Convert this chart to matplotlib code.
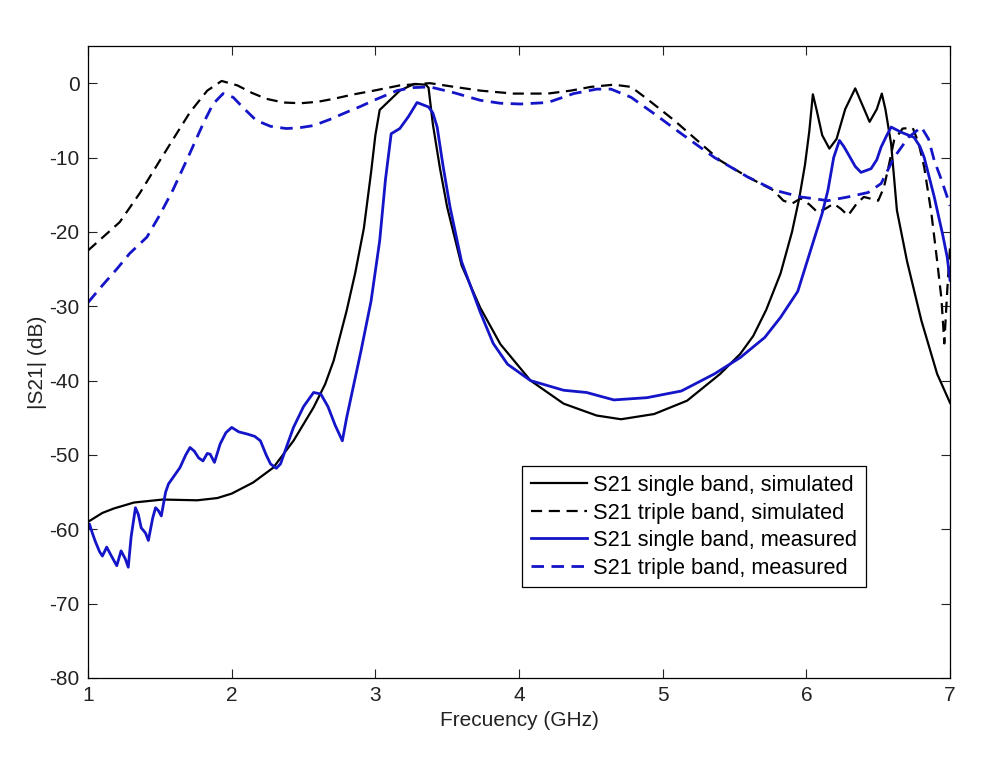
import matplotlib
matplotlib.use("Agg")
import matplotlib.pyplot as plt

# S21 single band, simulated
x_ss = [1.00, 1.10, 1.18, 1.32, 1.52, 1.76, 1.90, 2.00, 2.15, 2.29, 2.43, 2.57, 2.65, 2.71, 2.80,
        2.86, 2.92, 2.97, 3.00, 3.03, 3.10, 3.17, 3.27, 3.35, 3.37, 3.40, 3.45, 3.50, 3.60, 3.73,
        3.87, 4.08, 4.31, 4.54, 4.71, 4.94, 5.17, 5.40, 5.54, 5.63, 5.72, 5.82, 5.90, 5.95, 5.99,
        6.02, 6.045, 6.07, 6.11, 6.16, 6.21, 6.27, 6.34, 6.38, 6.44, 6.49, 6.525, 6.55, 6.59, 6.63,
        6.70, 6.80, 6.91, 7.00]
y_ss = [-59.0, -57.8, -57.2, -56.4, -56.0, -56.1, -55.8, -55.2, -53.7, -51.7, -48.1, -43.6, -40.5, -37.3, -30.6,
        -25.5, -19.5, -12.0, -7.0, -3.6, -2.3, -1.0, -0.1, -0.2, -0.6, -5.5, -11.5, -16.7, -24.5, -30.2,
        -35.1, -40.0, -43.1, -44.7, -45.2, -44.5, -42.7, -39.1, -36.4, -34.0, -30.5, -25.6, -20.0, -15.5, -11.0,
        -6.5, -1.5, -3.5, -7.0, -8.8, -7.5, -3.5, -0.7, -2.5, -5.2, -3.5, -1.4, -3.5, -8.2, -17.1,
        -23.9, -31.9, -39.1, -43.0]

# S21 triple band, simulated
x_ts = [1.00, 1.22, 1.36, 1.50, 1.60, 1.71, 1.83, 1.93, 2.04, 2.14, 2.24, 2.36, 2.48, 2.60, 2.71,
        2.85, 2.99, 3.17, 3.38, 3.55, 3.73, 3.96, 4.20, 4.36, 4.50, 4.66, 4.78, 4.89, 5.08, 5.24,
        5.40, 5.59, 5.77, 5.84, 5.90, 5.96, 6.02, 6.08, 6.14, 6.19, 6.24, 6.29, 6.35, 6.40, 6.50,
        6.54, 6.58, 6.61, 6.67, 6.74, 6.78, 6.82, 6.87, 6.91, 6.94, 6.96, 6.98, 7.00]
y_ts = [-22.5, -18.7, -14.8, -10.4, -7.3, -3.9, -1.0, 0.3, -0.3, -1.3, -2.1, -2.6, -2.7, -2.5, -2.1,
        -1.5, -1.0, -0.3, 0.0, -0.5, -1.0, -1.4, -1.4, -1.0, -0.5, -0.2, -0.5, -2.1, -5.0, -7.7,
        -10.4, -12.6, -14.4, -15.8, -16.2, -15.5, -16.3, -17.4, -16.8, -16.2, -16.9, -17.8, -16.2, -15.3, -15.8,
        -14.0, -10.5, -7.7, -6.1, -6.0, -8.0, -11.3, -17.5, -23.9, -29.0, -35.0, -28.0, -22.0]

# S21 single band, measured
x_sm = [1.00, 1.01, 1.03, 1.05, 1.08, 1.10, 1.13, 1.16, 1.20, 1.23, 1.26, 1.28, 1.30, 1.33, 1.35,
        1.37, 1.40, 1.42, 1.45, 1.47, 1.49, 1.51, 1.54, 1.56, 1.60, 1.64, 1.68, 1.71, 1.74, 1.77,
        1.80, 1.83, 1.85, 1.88, 1.92, 1.96, 2.00, 2.05, 2.11, 2.16, 2.20, 2.24, 2.27, 2.31, 2.34,
        2.38, 2.43, 2.50, 2.57, 2.62, 2.67, 2.72, 2.77, 2.80, 2.85, 2.90, 2.97, 3.03, 3.07, 3.11,
        3.17, 3.23, 3.29, 3.33, 3.37, 3.40, 3.43, 3.47, 3.52, 3.60, 3.73, 3.82, 3.92, 4.08, 4.31,
        4.47, 4.66, 4.89, 5.13, 5.36, 5.54, 5.71, 5.82, 5.94, 6.05, 6.11, 6.15, 6.19, 6.23, 6.26,
        6.29, 6.34, 6.38, 6.45, 6.49, 6.52, 6.56, 6.59, 6.66, 6.75, 6.79, 6.82, 6.89, 6.95, 6.98,
        7.00]
y_sm = [-60.0, -59.3, -60.5, -61.6, -63.0, -63.6, -62.4, -63.5, -64.9, -62.9, -64.0, -65.1, -61.0, -57.1, -58.0,
        -59.8, -60.5, -61.5, -58.5, -57.1, -57.5, -58.2, -55.0, -53.9, -52.8, -51.7, -50.0, -49.0, -49.5, -50.4,
        -50.8, -49.8, -49.9, -51.0, -48.5, -47.0, -46.3, -46.9, -47.2, -47.5, -48.1, -50.0, -51.2, -51.8, -51.2,
        -49.0, -46.3, -43.5, -41.6, -41.8, -43.5, -46.0, -48.1, -45.0, -40.5, -36.0, -29.3, -21.2, -13.0, -6.8,
        -6.1, -4.5, -2.6, -2.9, -3.2, -4.0, -5.9, -11.0, -16.7, -24.0, -30.8, -35.0, -37.8, -40.0, -41.3,
        -41.6, -42.6, -42.3, -41.4, -39.1, -36.9, -34.2, -31.5, -28.0, -21.2, -17.5, -14.4, -10.0, -7.7, -8.5,
        -9.5, -11.2, -12.0, -11.5, -10.3, -8.6, -7.0, -5.9, -6.6, -7.3, -8.5, -10.0, -15.3, -20.5, -23.4,
        -26.5]

# S21 triple band, measured
x_tm = [1.00, 1.10, 1.20, 1.29, 1.41, 1.50, 1.59, 1.70, 1.80, 1.87, 1.94, 2.01, 2.08, 2.17, 2.27,
        2.38, 2.47, 2.57, 2.68, 2.80, 2.90, 2.99, 3.15, 3.26, 3.38, 3.55, 3.73, 3.87, 4.01, 4.20,
        4.38, 4.54, 4.64, 4.78, 4.94, 5.13, 5.36, 5.59, 5.78, 5.96, 6.15, 6.29, 6.43, 6.52, 6.61,
        6.71, 6.80, 6.85, 6.89, 6.94, 6.98, 7.00]
y_tm = [-29.5, -27.2, -25.0, -22.9, -20.7, -17.7, -14.4, -9.8, -5.5, -2.8, -1.4, -1.9, -3.3, -5.0, -5.8,
        -6.1, -6.0, -5.7, -4.9, -3.9, -3.1, -2.3, -1.0, -0.6, -0.5, -1.3, -2.3, -2.7, -2.8, -2.6,
        -1.4, -0.8, -0.8, -1.9, -4.1, -6.8, -10.0, -12.6, -14.4, -15.3, -15.8, -15.3, -14.7, -13.5, -10.0,
        -7.3, -5.9, -7.5, -10.4, -13.0, -15.3, -16.5]

labels = ["S21 single band, simulated", "S21 triple band, simulated",
          "S21 single band, measured", "S21 triple band, measured"]

plt.rcParams["font.family"] = ["Liberation Sans", "DejaVu Sans"]
plt.rcParams["axes.unicode_minus"] = False

blue = "#1414c8"
fig = plt.figure(figsize=(9.88, 7.68), dpi=100)
ax = fig.add_axes([0.0891, 0.1172, 0.8725, 0.8229])

ax.plot(x_ss, y_ss, color="black", lw=1.6, label=labels[0])
ax.plot(x_ts, y_ts, color="black", lw=1.6, dashes=(5, 3), label=labels[1])
ax.plot(x_sm, y_sm, color=blue, lw=2.0, label=labels[2])
ax.plot(x_tm, y_tm, color=blue, lw=2.0, dashes=(4.5, 2.7), label=labels[3])

ax.set_xlim(1, 7)
ax.set_ylim(-80, 5)
ax.set_xticks(range(1, 8))
ax.set_yticks(range(-80, 1, 10))
ax.tick_params(direction="in", top=True, right=True, length=6.5, width=0.8,
               labelsize=15, pad=6, colors="#222222")
for s in ax.spines.values():
    s.set_linewidth(0.9)
ax.set_xlabel("Frecuency (GHz)", fontsize=15, color="#222222", labelpad=4)
ax.set_ylabel("|S21| (dB)", fontsize=15, color="#222222", labelpad=2)

leg = ax.legend(loc="upper left", bbox_to_anchor=(0.5035, 0.335), fontsize=15.7,
                fancybox=False, framealpha=1, edgecolor="black", handlelength=2.6,
                handletextpad=0.25, labelspacing=0.3, borderpad=0.4, borderaxespad=0)
leg.get_frame().set_linewidth(0.9)

fig.savefig("out.png", dpi=100)
